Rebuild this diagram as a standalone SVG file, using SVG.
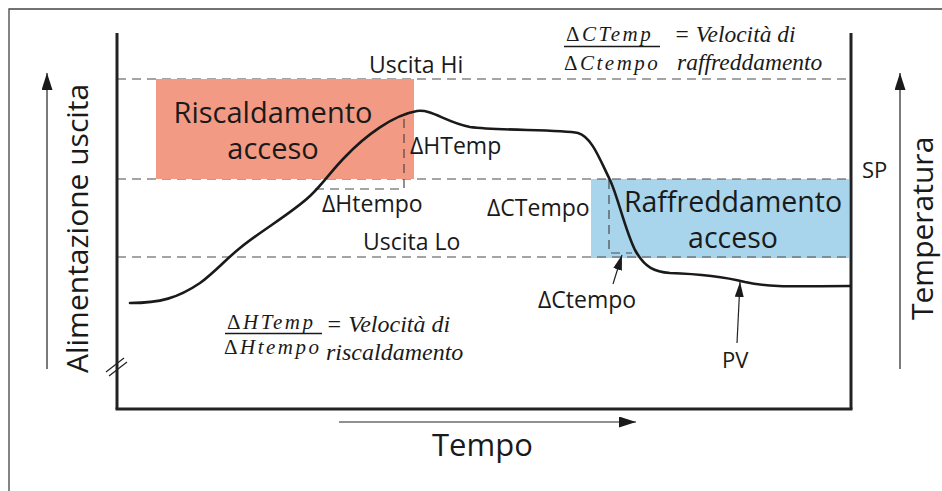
<svg xmlns="http://www.w3.org/2000/svg" width="942" height="491" viewBox="0 0 942 491">
<style>
.sans{font-family:"Open Sans","Liberation Sans",sans-serif;fill:#1a1a1a}
.ser{font-family:"Liberation Serif","Times New Roman",serif;font-style:italic;fill:#1a1a1a}
.frac{font-size:21px;letter-spacing:2.5px}
.up{font-style:normal}
.dash{stroke:#4a4a4a;stroke-width:1.2;stroke-dasharray:9 6;fill:none}
.axis{stroke:#222;stroke-width:3;fill:none}
.thin{stroke:#222;stroke-width:1.2;fill:none}
.curve{stroke:#1a1a1a;stroke-width:2.6;fill:none;stroke-linecap:round}
</style>
<defs>
<marker id="ah" markerUnits="userSpaceOnUse" markerWidth="17" markerHeight="11" refX="17" refY="5.5" orient="auto">
<path d="M0,0 L17,5.5 L0,11 z" fill="#1a1a1a"/>
</marker>
<marker id="ahs" markerUnits="userSpaceOnUse" markerWidth="15" markerHeight="9" refX="15" refY="4.5" orient="auto">
<path d="M0,0 L15,4.5 L0,9 z" fill="#1a1a1a"/>
</marker>
</defs>
<rect width="942" height="491" fill="#fff"/>
<path d="M9,491 V9 H942" fill="none" stroke="#444" stroke-width="1.3"/>

<g id="cooling-zone">
<rect x="591" y="179" width="258" height="79" fill="#A8D5EC"/>
</g>

<g id="levels">
<line class="dash" x1="117" y1="79" x2="848" y2="79"/>
<line class="dash" x1="117" y1="179" x2="848" y2="179"/>
<line class="dash" x1="117" y1="257" x2="848" y2="257"/>
<text class="sans" x="369" y="73" font-size="23">Uscita Hi</text>
<text class="sans" x="363" y="250" font-size="23">Uscita Lo</text>
<text class="sans" x="862" y="178" font-size="22">SP</text>
</g>

<g id="heating-zone">
<rect x="156" y="79" width="258" height="100" fill="#F39A85"/>
<text class="sans" x="273" y="123" font-size="29" text-anchor="middle">Riscaldamento</text>
<text class="sans" x="273" y="159" font-size="29" text-anchor="middle">acceso</text>
</g>

<g id="cooling-label">
<text class="sans" x="733" y="212" font-size="28.5" text-anchor="middle">Raffreddamento</text>
<text class="sans" x="733" y="248" font-size="28.5" text-anchor="middle">acceso</text>
</g>

<g id="axes">
<line class="axis" x1="117" y1="33" x2="117" y2="409"/>
<line class="axis" x1="115.5" y1="409" x2="852.5" y2="409"/>
<line class="axis" x1="851" y1="33" x2="851" y2="409"/>
<line class="thin" x1="106" y1="372" x2="124" y2="358"/>
<line class="thin" x1="109" y1="376" x2="127" y2="362"/>
</g>

<g id="heat-bracket">
<path class="dash" d="M315,189 H404 V119"/>
<text class="sans" x="410" y="154" font-size="23">ΔHTemp</text>
<text class="sans" x="322" y="212" font-size="23">ΔHtempo</text>
</g>

<g id="cool-bracket">
<path class="dash" d="M609,180 V253 H632"/>
<text class="sans" x="487" y="216" font-size="23">ΔCTempo</text>
<text class="sans" x="538" y="308" font-size="23">ΔCtempo</text>
</g>

<g id="pv-curve">
<path class="curve" d="M130,303 C160,303 178,298 200,283 C215,272 225,260 240,248 C262,230 292,213 310,196 C322,185 332,170 345,157 C365,136 393,115 417,111 C432,109 445,122 470,127 C500,131 560,129 578,133 C592,137 600,160 610,180 C618,197 625,230 635,250 C645,268 655,272 670,273 C700,274 725,277 745,282 C772,288 800,286 850,286"/>
<text class="sans" x="722" y="368" font-size="22">PV</text>
</g>

<g id="axis-labels">
<text class="sans" font-size="30" transform="translate(88,373) rotate(-90)">Alimentazione uscita</text>
<text class="sans" font-size="30" transform="translate(933,320) rotate(-90)">Temperatura</text>
<text class="sans" x="432" y="456" font-size="31">Tempo</text>
</g>

<g id="cooling-rate">
<text class="ser frac" x="566" y="41"><tspan class="up">Δ</tspan>CTemp</text>
<line x1="564" y1="46.5" x2="660" y2="46.5" stroke="#1a1a1a" stroke-width="1.6"/>
<text class="ser frac" x="564" y="70"><tspan class="up">Δ</tspan>Ctempo</text>
<text class="ser" x="674" y="42" font-size="23.5">= Velocità di</text>
<text class="ser" x="677" y="70" font-size="23.5">raffreddamento</text>
</g>

<g id="heating-rate">
<text class="ser frac" x="227" y="329"><tspan class="up">Δ</tspan>HTemp</text>
<line x1="225" y1="333.5" x2="322" y2="333.5" stroke="#1a1a1a" stroke-width="1.6"/>
<text class="ser frac" x="224" y="354"><tspan class="up">Δ</tspan>Htempo</text>
<text class="ser" x="326" y="332" font-size="24">= Velocità di</text>
<text class="ser" x="326" y="360" font-size="24">riscaldamento</text>
</g>

<g id="connectors">
<line class="thin" x1="47" y1="369" x2="47" y2="73" marker-end="url(#ah)"/>
<line class="thin" x1="900" y1="369" x2="900" y2="73" marker-end="url(#ah)"/>
<line class="thin" x1="339" y1="422" x2="636" y2="422" marker-end="url(#ah)"/>
<line class="thin" x1="613" y1="284" x2="622" y2="255" marker-end="url(#ahs)"/>
<line class="thin" x1="737" y1="343" x2="740" y2="282" marker-end="url(#ahs)"/>
</g>
</svg>
